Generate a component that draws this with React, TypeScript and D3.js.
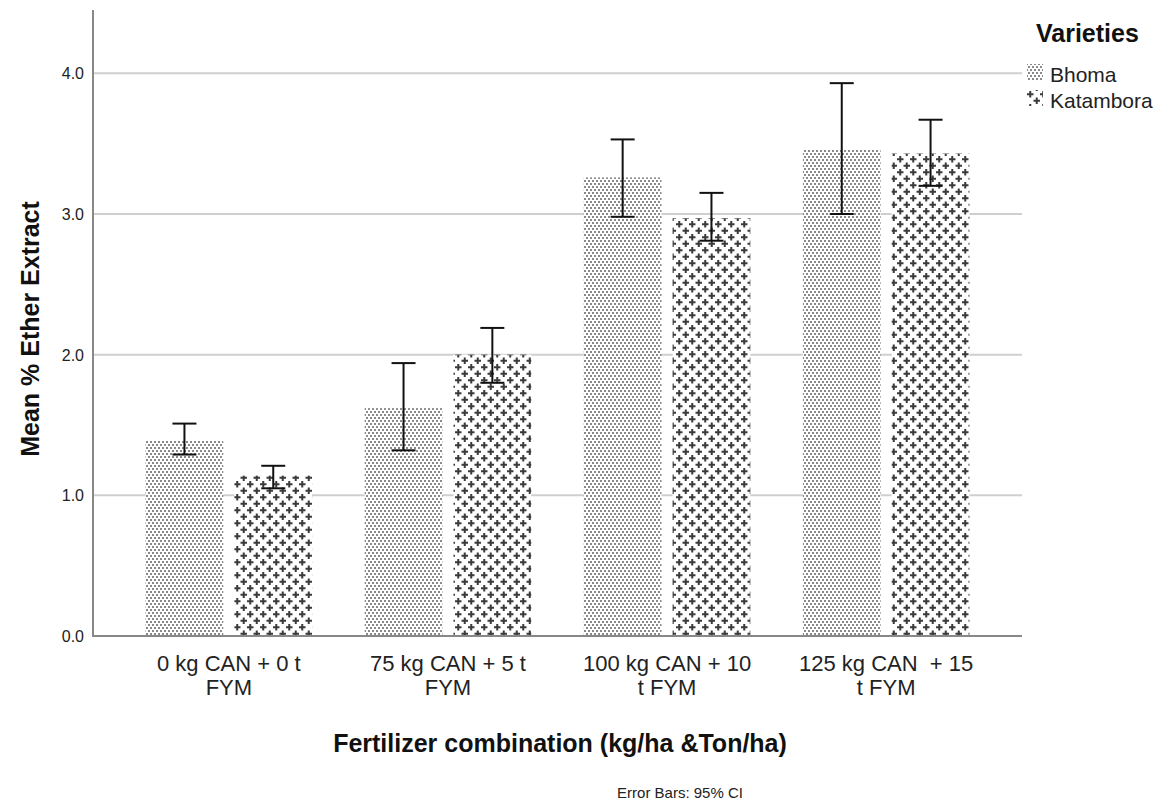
import { useEffect, useRef } from 'react'
import * as d3 from 'd3'

// Mean % ether extract by fertilizer combination and variety
const categories = [
  ['0 kg CAN + 0 t', 'FYM'],
  ['75 kg CAN + 5 t', 'FYM'],
  ['100 kg CAN + 10', 't FYM'],
  ['125 kg CAN  + 15', 't FYM'],
]
const varieties = ['Bhoma', 'Katambora']
const bhomaMean = [1.39, 1.62, 3.26, 3.46]
const bhomaLow = [1.29, 1.32, 2.98, 3.0]
const bhomaHigh = [1.51, 1.94, 3.53, 3.93]
const katamboraMean = [1.14, 2.0, 2.97, 3.43]
const katamboraLow = [1.05, 1.8, 2.81, 3.2]
const katamboraHigh = [1.21, 2.19, 3.15, 3.67]
const yTicks = [0, 1, 2, 3, 4]

const FONT = '"Liberation Sans", Arial, sans-serif'

export default function App() {
  const ref = useRef<SVGSVGElement>(null)

  useEffect(() => {
    const width = 1159
    const height = 804
    const margin = { top: 10, right: 137, bottom: 168, left: 93 }

    const svg = d3.select(ref.current)
    svg.selectAll('*').remove()
    svg.attr('width', width).attr('height', height).attr('viewBox', [0, 0, width, height])
      .style('font-family', FONT)

    // patterns
    const defs = svg.append('defs')
    const p1 = defs.append('pattern').attr('id', 'pat-bhoma')
      .attr('patternUnits', 'userSpaceOnUse').attr('width', 4).attr('height', 6)
    p1.append('rect').attr('width', 4).attr('height', 6).attr('fill', '#fff')
    p1.append('rect').attr('x', 0).attr('y', 0).attr('width', 2).attr('height', 2).attr('fill', '#8a8a8a')
    p1.append('rect').attr('x', 2).attr('y', 3).attr('width', 2).attr('height', 2).attr('fill', '#8a8a8a')

    const p2 = defs.append('pattern').attr('id', 'pat-katambora')
      .attr('patternUnits', 'userSpaceOnUse').attr('width', 13).attr('height', 13)
    p2.append('rect').attr('width', 13).attr('height', 13).attr('fill', '#fff')
    p2.append('path')
      .attr('d', 'M3.25,0V6.5M0,3.25H6.5M9.75,6.5V13M6.5,9.75H13')
      .attr('stroke', '#3a3a3a').attr('stroke-width', 2)

    const fills = ['url(#pat-bhoma)', 'url(#pat-katambora)']

    const x0 = d3.scaleBand<number>()
      .domain(d3.range(categories.length))
      .range([margin.left, width - margin.right])
      .paddingInner(0.24)
      .paddingOuter(0.24)
    const x1 = d3.scaleBand<number>()
      .domain(d3.range(varieties.length))
      .range([0, x0.bandwidth()])
      .paddingInner(0.125)
    const y = d3.scaleLinear()
      .domain([0, 4.45])
      .range([height - margin.bottom, margin.top])

    // gridlines
    svg.append('g').selectAll('line').data(yTicks.filter(d => d > 0)).join('line')
      .attr('x1', margin.left).attr('x2', width - margin.right)
      .attr('y1', d => y(d)).attr('y2', d => y(d))
      .attr('stroke', '#cfcfcf').attr('stroke-width', 2)

    const series = [
      { mean: bhomaMean, low: bhomaLow, high: bhomaHigh },
      { mean: katamboraMean, low: katamboraLow, high: katamboraHigh },
    ]

    // bars
    series.forEach((s, si) => {
      svg.append('g').selectAll('rect').data(s.mean).join('rect')
        .attr('x', (_, i) => x0(i)! + x1(si)!)
        .attr('y', d => y(d))
        .attr('width', x1.bandwidth())
        .attr('height', d => y(0) - y(d))
        .attr('fill', fills[si])
    })

    // axes lines
    svg.append('line')
      .attr('x1', margin.left).attr('x2', margin.left)
      .attr('y1', margin.top).attr('y2', y(0))
      .attr('stroke', '#888').attr('stroke-width', 2)
    svg.append('line')
      .attr('x1', margin.left - 1).attr('x2', width - margin.right)
      .attr('y1', y(0)).attr('y2', y(0))
      .attr('stroke', '#888').attr('stroke-width', 2)

    // error bars
    const cap = 12
    series.forEach((s, si) => {
      const g = svg.append('g').attr('stroke', '#111').attr('stroke-width', 2)
      s.mean.forEach((_, i) => {
        const cx = x0(i)! + x1(si)! + x1.bandwidth() / 2
        g.append('line').attr('x1', cx).attr('x2', cx).attr('y1', y(s.low[i])).attr('y2', y(s.high[i]))
        g.append('line').attr('x1', cx - cap).attr('x2', cx + cap).attr('y1', y(s.low[i])).attr('y2', y(s.low[i]))
        g.append('line').attr('x1', cx - cap).attr('x2', cx + cap).attr('y1', y(s.high[i])).attr('y2', y(s.high[i]))
      })
    })

    // y tick labels
    svg.append('g').selectAll('text').data(yTicks).join('text')
      .attr('x', margin.left - 9)
      .attr('y', d => y(d) + 6)
      .attr('text-anchor', 'end')
      .attr('font-size', 16)
      .attr('fill', '#222')
      .text(d => d3.format('.1f')(d))

    // x tick labels
    const xl = svg.append('g').selectAll('text').data(categories).join('text')
      .attr('text-anchor', 'middle')
      .attr('font-size', 22)
      .attr('fill', '#222')
      .style('white-space', 'pre')
      .attr('transform', (_, i) => `translate(${x0(i)! + x0.bandwidth() / 2},${y(0) + 35})`)
    xl.selectAll('tspan').data(d => d).join('tspan')
      .attr('x', 0).attr('dy', (_, j) => (j === 0 ? 0 : 24))
      .text(d => d)

    // axis titles
    svg.append('text')
      .attr('x', 560).attr('y', 752)
      .attr('text-anchor', 'middle')
      .attr('font-size', 25).attr('font-weight', 'bold').attr('fill', '#111')
      .text('Fertilizer combination (kg/ha &Ton/ha)')
    svg.append('text')
      .attr('transform', `translate(39,${329}) rotate(-90)`)
      .attr('text-anchor', 'middle')
      .attr('font-size', 25).attr('font-weight', 'bold').attr('fill', '#111')
      .text('Mean % Ether Extract')

    svg.append('text')
      .attr('x', 680).attr('y', 798)
      .attr('text-anchor', 'middle')
      .attr('font-size', 15).attr('fill', '#222')
      .text('Error Bars: 95% CI')

    // legend
    const lg = svg.append('g')
    lg.append('text').attr('x', 1036).attr('y', 42)
      .attr('font-size', 25).attr('font-weight', 'bold').attr('fill', '#111')
      .text('Varieties')
    varieties.forEach((v, i) => {
      lg.append('rect').attr('x', 1027).attr('y', 64 + i * 26).attr('width', 16).attr('height', 16)
        .attr('fill', fills[i])
      lg.append('text').attr('x', 1050).attr('y', 82 + i * 26)
        .attr('font-size', 21).attr('fill', '#222')
        .text(v)
    })
  }, [])

  return <svg ref={ref} style={{ display: 'block', position: 'absolute', left: 0, top: 0 }} />
}
